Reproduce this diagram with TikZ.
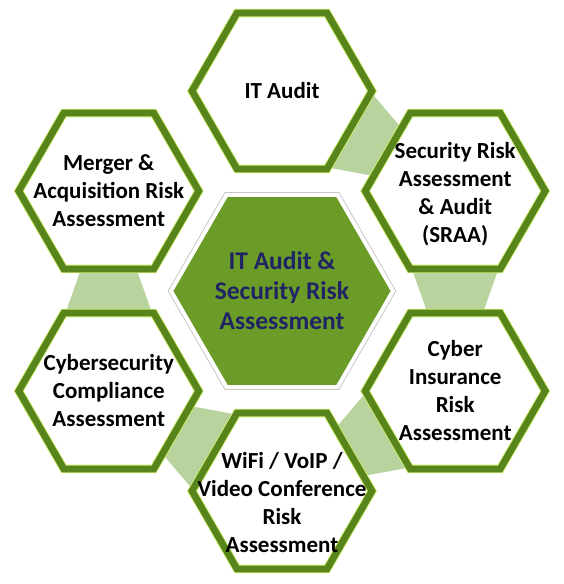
\documentclass[tikz,border=0pt]{standalone}
\usepackage{fontspec}
\setmainfont{Carlito}
\usepackage{xcolor}
\definecolor{verdeEsc}{RGB}{88,132,28}
\definecolor{verdeMeio}{RGB}{108,156,40}
\definecolor{verdeClaro}{RGB}{184,211,158}
\definecolor{brilho}{RGB}{205,238,112}
\definecolor{marinho}{RGB}{32,36,100}
\usetikzlibrary{shapes.geometric,calc}
\pgfdeclarelayer{fundo}
\pgfsetlayers{fundo,main}

\begin{document}
\begin{tikzpicture}[x=1pt,y=1pt,
            hexa/.style={regular polygon,regular polygon sides=6,
              minimum size=180pt,inner sep=0pt,
              preaction={fill=white},draw=brilho,line width=8.6pt,
              postaction={draw=verdeEsc,line width=6.8pt}},
            nucleo/.style={regular polygon,regular polygon sides=6,
              minimum size=222pt,inner sep=0pt,fill=verdeMeio,
              draw=white,line width=4pt,
              preaction={draw=black!25,line width=5.6pt}},
            txt/.style={font=\fontsize{23}{28}\selectfont\bfseries,
              align=center,text=black},
            faixa/.style={fill=verdeClaro}
            ]
            \useasboundingbox (-282,-293) rectangle (282,291);

            \node[hexa]   (au) at (90:200)  {};
            \node[hexa]   (sr) at (30:200)  {};
            \node[hexa]   (ci) at (-30:200) {};
            \node[hexa]   (wf) at (-90:200) {};
            \node[hexa]   (cp) at (210:200) {};
            \node[hexa]   (mg) at (150:200) {};
            \node[nucleo] (c)  at (0,0)     {};

            % faixas entre hexagonos vizinhos
            \begin{pgfonlayer}{fundo}
              \foreach \a/\b in {au/sr,sr/ci,ci/wf,wf/cp,cp/mg}
                \fill[faixa] (\b.center) -- ($(\a)!71pt!90:(\b)$)
                  -- ($(\a)!71pt!-90:(\b)$) -- cycle;
            \end{pgfonlayer}

            \node[txt] (au-t) at (au) {IT Audit};
            \node[txt] (sr-t) at ($(sr)+(0,-3)$) {Security Risk\\Assessment\\\& Audit\\(SRAA)};
            \node[txt] (ci-t) at (ci) {Cyber\\Insurance\\Risk\\Assessment};
            \node[txt] (wf-t) at ($(wf)+(0,-12)$) {WiFi / VoIP /\\Video Conference\\Risk\\Assessment};
            \node[txt] (cp-t) at (cp) {Cybersecurity\\Compliance\\Assessment};
            \node[txt] (mg-t) at (mg) {Merger \&\\Acquisition Risk\\Assessment};
            \node[txt,text=marinho,
            font=\fontsize{25.5}{30}\selectfont\bfseries] (c-t) at (c)
              {IT Audit \&\\Security Risk\\Assessment};
          \end{tikzpicture}
\end{document}
